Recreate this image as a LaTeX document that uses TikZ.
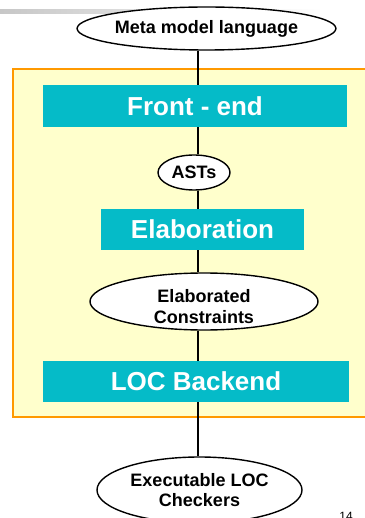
\documentclass[tikz,border=0pt]{standalone}
\usepackage{fontspec}
\setmainfont{Liberation Sans}
\usetikzlibrary{shapes.geometric}
\definecolor{stagefill}{RGB}{5,187,200}
\definecolor{panelfill}{RGB}{255,255,204}
\definecolor{panelline}{RGB}{255,153,0}
\tikzset{
  stagebox/.style={rectangle, fill=stagefill, text=white, inner sep=0pt,
    font=\fontsize{26}{28}\selectfont\bfseries},
  artefact/.style={ellipse, draw=black, line width=1.4pt, fill=white, inner sep=0pt,
    align=center, font=\fontsize{18}{20.5}\selectfont\bfseries},
  caption/.style={inner sep=0pt, align=center, font=\fontsize{18}{20.5}\selectfont\bfseries},
  flow/.style={line width=1.5pt, draw=black}
}
\begin{document}
\begin{tikzpicture}[x=1pt,y=-1pt]
  \useasboundingbox (0,0) rectangle (364,518);
  % slide header rule
  \shade[left color=black!22, right color=white] (0,10) rectangle (322,14);
  % compiler panel
  \fill[panelfill] (13,69) rectangle (370,417);
  \draw[panelline, line width=2pt] (370,69) -- (13,69) -- (13,417) -- (370,417);
  \coordinate (spine) at (198,0);
  % nodes
  \node[artefact, minimum width=239pt, minimum height=43pt] (meta) at (206.5,28.5) {Meta model language};
  \node[stagebox, minimum width=304pt, minimum height=42pt] (front) at (195,106) {Front - end};
  \node[artefact, minimum width=72pt, minimum height=35pt] (asts) at (194,172.5) {ASTs};
  \node[stagebox, minimum width=203pt, minimum height=41pt] (elab) at (202.5,229.5) {Elaboration};
  \node[artefact, minimum width=228pt, minimum height=57pt] (cons) at (204,301.5) {};
  \node[caption] (consText) at (204,306.5) {Elaborated\\Constraints};
  \node[stagebox, minimum width=306pt, minimum height=41pt] (loc) at (196,381.5) {LOC Backend};
  \node[artefact, minimum width=205pt, minimum height=66pt] (exec) at (199.5,490) {Executable LOC\\Checkers};
  % connectors
  \draw[flow] (spine |- meta.south) -- (spine |- front.north);
  \draw[flow] (spine |- front.south) -- (spine |- asts.north);
  \draw[flow] (spine |- asts.south) -- (spine |- elab.north);
  \draw[flow] (spine |- elab.south) -- (spine |- cons.north);
  \draw[flow] (spine |- cons.south) -- (spine |- loc.north);
  \draw[flow] (spine |- loc.south) -- (spine |- exec.north);
  % page number
  \node[anchor=north, inner sep=0pt, font=\fontsize{12}{12}\selectfont] (pageno) at (346,512) {14};
\end{tikzpicture}
\end{document}
